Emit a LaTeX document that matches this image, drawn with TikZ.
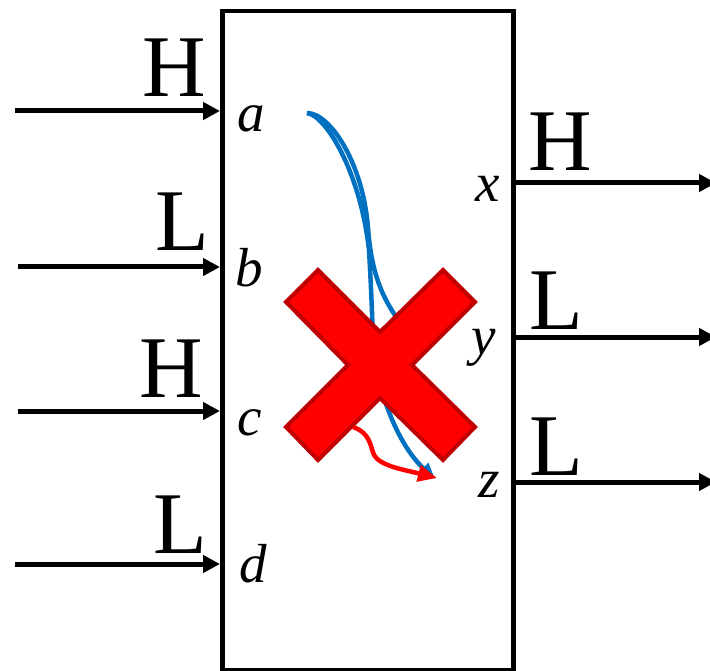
\documentclass[tikz,border=0pt]{standalone}
\usepackage{fontspec}
\setmainfont{Liberation Serif}
\usetikzlibrary{arrows.meta}
\definecolor{xred}{HTML}{FF0000}
\definecolor{xdark}{HTML}{C00000}
\definecolor{flowblue}{HTML}{0070C0}
\begin{document}
\begin{tikzpicture}[x=1pt,y=-1pt,
  levellabel/.style={inner sep=0pt,anchor=base,font=\fontsize{88}{88}\selectfont},
  portlabel/.style={inner sep=0pt,anchor=base,font=\fontsize{55}{55}\selectfont\itshape},
  sigarrow/.style={line width=5pt,-{Triangle[length=17pt,width=17pt]}},
  bluepath/.style={line width=4.5pt,draw=flowblue},
]
\useasboundingbox (0,0) rectangle (710,671);
% block
\node[draw,line width=4.5pt,minimum width=291pt,minimum height=659pt,inner sep=0pt,anchor=north west] (box) at (220,9) {};
% input coordinates
\coordinate (sa) at (15,111);  \coordinate (pa) at (220,111);
\coordinate (sb) at (18,267);  \coordinate (pb) at (220,267);
\coordinate (sc) at (18,411);  \coordinate (pc) at (220,411);
\coordinate (sd) at (15,564);  \coordinate (pd) at (220,564);
\coordinate (px) at (511,183); \coordinate (ex) at (716,183);
\coordinate (py) at (511,337); \coordinate (ey) at (716,337);
\coordinate (pz) at (511,482); \coordinate (ez) at (716,482);
\draw[sigarrow] (sa) -- (pa);
\draw[sigarrow] (sb) -- (pb);
\draw[sigarrow] (sc) -- (pc);
\draw[sigarrow] (sd) -- (pd);
\draw[sigarrow] (px) -- (ex);
\draw[sigarrow] (py) -- (ey);
\draw[sigarrow] (pz) -- (ez);
% level labels
\node[levellabel] (la) at (174,97) {H};
\node[levellabel] (lb) at (182,251) {L};
\node[levellabel] (lc) at (171,397) {H};
\node[levellabel] (ld) at (180,553) {L};
\node[levellabel] (lx) at (560,171) {H};
\node[levellabel] (ly) at (556,330) {L};
\node[levellabel] (lz) at (556,475) {L};
% port labels
\node[portlabel] (na) at (251,132) {a};
\node[portlabel] (nb) at (249,287) {b};
\node[portlabel] (nc) at (250,435) {c};
\node[portlabel] (nd) at (253,582) {d};
\node[portlabel] (nx) at (488,202) {x};
\node[portlabel] (ny) at (484,354) {y};
\node[portlabel] (nz) at (489,497) {z};
% blue paths
\coordinate (bs) at (307,113);
\coordinate (be) at (435,479);
\coordinate (bh) at (412,338);
\draw[bluepath] (bs) .. controls (330,113) and (363,163) .. (368,228) .. controls (372,280) and (385,305) .. (bh);
\draw[bluepath,-{Triangle[length=16pt,width=14pt]}] (bs) .. controls (325,115) and (360,170) .. (369,250) .. controls (371,285) and (372,310) .. (373,340) .. controls (376,390) and (398,445) .. (be);
% red cross
\filldraw[fill=xred,draw=xdark,line width=4pt,line join=miter]
  (318,270) -- (380,332) -- (443,270) -- (475,302) -- (412,365) -- (475,427)
  -- (443,460) -- (380,398) -- (318,460) -- (286,427) -- (348,365) -- (286,302) -- cycle;
% red arrow
\coordinate (rs) at (353,427);
\coordinate (re) at (437,478);
\draw[xred,line width=4.5pt,-{Triangle[length=19pt,width=16pt]}] (rs) .. controls (370,433) and (370,445) .. (374,455) .. controls (380,466) and (405,470) .. (re);
\end{tikzpicture}
\end{document}
